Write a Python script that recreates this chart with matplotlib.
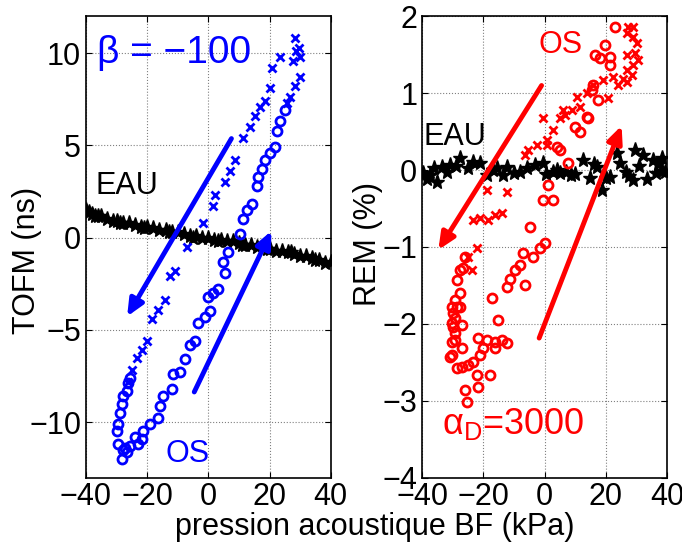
import matplotlib
matplotlib.use('Agg')
import matplotlib.pyplot as plt

plt.rcParams['font.family'] = ['Liberation Sans', 'DejaVu Sans']
plt.rcParams['mathtext.fontset'] = 'custom'
plt.rcParams['mathtext.rm'] = 'Liberation Sans'
plt.rcParams['mathtext.it'] = 'Liberation Sans'

# ---- left panel : TOFM ----
eau_l_x = [-40, -39, -38, -36, -35, -33, -31, -30, -28, -26, -24, -22, -20, -18, -16, -14,
           -12, -10, -8, -6, -4, -2, 0, 2, 4, 6, 8, 10, 12, 14, 16, 18, 20, 22, 24, 26,
           28, 30, 32, 34, 36, 38, 40, -37, -29, -21, -13, -5, 3, 11, 19, 27, 35]
eau_l_y = [1.5, 1.4, 1.3, 1.2, 1.2, 1.0, 0.9, 0.9, 0.8, 0.8, 0.7, 0.6, 0.6, 0.5, 0.4, 0.4,
           0.3, 0.3, 0.2, 0.1, 0.1, 0.0, 0.0, -0.1, -0.1, -0.2, -0.2, -0.3, -0.4, -0.4, -0.5,
           -0.5, -0.6, -0.7, -0.7, -0.8, -0.9, -1.0, -1.0, -1.1, -1.2, -1.4, -1.3,
           1.2, 0.8, 0.5, 0.3, 0.0, -0.2, -0.4, -0.6, -0.8, -1.2]

os_l_down_x = [28.2, 29.5, 30.0, 28.8, 27.5, 23.3, 20.7, 20.0, 18.4, 16.8, 15.2, 13.5, 11.3,
               8.7, 7.0, 5.4, 2.1, 1.5, -1.8, -7.1, -10.9, -12.6, -14.2, -16.5, -18.4,
               -20.1, -21.7, -23.4, -25.0, -26.3, 29.9, 28.2, 26.6, 25.6]
os_l_down_y = [10.8, 10.3, 9.8, 10.1, 9.6, 9.8, 9.2, 8.1, 7.4, 7.1, 6.6, 6.0, 5.4,
               4.2, 3.6, 3.0, 2.3, 1.7, 0.8, -0.5, -1.8, -2.1, -3.4, -3.9, -4.4,
               -5.6, -6.1, -6.5, -7.2, -7.8, 8.7, 8.2, 7.6, 7.3]

os_l_up_x = [25.0, 23.3, 22.4, 21.7, 20.0, 18.4, 17.5, 16.2, 15.8, 14.2, 12.6, 11.3, 10.3,
             6.4, 4.7, 5.4, 3.1, 1.6, -0.1, 0.5, -1.1, -3.4, -4.4, -6.0, -7.7, -9.3,
             -11.6, -11.9, -14.9, -15.8, -16.5, -19.1, -21.4, -21.7, -24.0, -25.6, -27.3,
             -29.6, -28.2, -29.9, -29.6, -28.9, -28.2, -27.9, -26.6, -26.3, -25.6, -28.0,
             -26.5, -23.0]
os_l_up_y = [6.9, 6.3, 5.8, 4.9, 4.6, 4.2, 3.7, 3.3, 2.8, 1.8, 1.5, 1.0, 0.2,
             -0.8, -1.3, -1.9, -2.8, -3.0, -3.2, -4.0, -4.3, -4.6, -5.6, -5.8, -6.6, -7.3,
             -7.4, -8.2, -8.6, -9.1, -9.8, -10.1, -10.5, -10.9, -10.8, -11.3, -11.4,
             -11.2, -12.0, -10.5, -10.1, -9.5, -9.0, -8.6, -8.3, -7.9, -7.6, -11.5,
             -11.6, -11.2]

# ---- right panel : REM ----
eau_r_x = [-39.7, -37.5, -35.1, -33.5, -30.9, -27.6, -25.0, -21.1, -18.8, -15.6, -12.2,
           -10.0, -5.7, -0.5, 2.8, 5.0, 7.1, 12.6, 14.9, 17.1, 18.8, 21.4, 23.7, 24.7,
           26.5, 28.9, 29.6, 32.2, 35.4, 36.5, 38.4, 38.4, -36.0, -29.0, -8.0, 10.0,
           -38.5, -32.0, -23.5, -17.0, -13.5, -3.0, 0.5, 4.0, 8.5, 16.0, 20.0, 27.5,
           31.0, 33.5, 37.0, 39.5]
eau_r_y = [-0.04, -0.06, -0.16, 0.04, 0.07, 0.16, 0.03, 0.09, -0.07, 0.03, 0.04,
           -0.04, 0.03, 0.09, -0.02, -0.04, -0.03, 0.13, -0.10, 0.04, -0.26, -0.09, 0.22,
           0.09, -0.03, -0.13, 0.26, 0.20, 0.13, -0.04, 0.16, -0.01, 0.02, 0.05, -0.03,
           -0.05, -0.12, -0.02, 0.10, 0.00, -0.06, 0.06, -0.05, 0.00, -0.06, 0.08, -0.10,
           -0.08, 0.05, -0.12, 0.08, -0.02]

os_r_down_x = [27.3, 28.9, 26.9, 28.9, 30.2, 29.6, 26.9, 30.5, 28.9, 26.9, 28.6, 25.6, 26.9,
               24.0, 22.4, 19.1, 20.7, 15.8, 13.9, 10.6, 11.6, 9.0, 6.0, 6.7, 5.1, -0.5,
               2.8, 0.8, -2.4, -5.4, -6.4, -12.2, -18.8, 0.8, -23.3, -21.1, -18.4, -16.2,
               -13.9, -22.0, -25.0, -23.7]
os_r_down_y = [1.86, 1.86, 1.78, 1.73, 1.65, 1.52, 1.50, 1.43, 1.37, 1.30, 1.24, 1.19, 1.15,
               1.11, 1.21, 1.17, 0.94, 1.11, 1.00, 0.95, 0.82, 0.78, 0.78, 0.72, 0.68, 0.68,
               0.52, 0.39, 0.33, 0.26, 0.20, -0.29, -0.26, 0.33, -0.65, -0.63, -0.65, -0.59,
               -0.56, -1.01, -1.13, -1.30]

os_r_up_x = [23.0, 19.8, 16.5, 18.1, 21.4, 21.4, 15.8, 15.5, 17.5, 13.9, 14.2, 10.0, 11.6,
             4.1, 5.1, 7.7, 1.1, -0.5, 2.8, -4.7, 0.2, -1.5, -3.8, -7.0, -8.0, -9.6, -11.3,
             -12.2, -6.4, -17.1, -15.2, -12.2, -13.9, -16.2, -16.2, -18.8, -21.7, -20.1,
             -21.1, -23.3, -25.0, -26.9, -28.6, -30.2, -30.8, -26.9, -29.2, -30.2, -29.2,
             -29.9, -26.9, -30.2, -29.2, -29.9, -30.2, -28.6, -27.6, -29.2, -27.6, -28.6,
             -27.6, -26.6, -26.0, -22.0, -17.8, -26.0, -21.7, -25.3]
os_r_up_y = [1.86, 1.63, 1.50, 1.46, 1.47, 1.37, 1.11, 1.04, 0.91, 0.69, 0.68, 0.56, 0.49,
             0.30, 0.26, 0.09, -0.20, -0.39, -0.39, -0.74, -0.95, -1.01, -1.13, -1.08, -1.24,
             -1.30, -1.42, -1.52, -1.50, -1.66, -1.95, -2.25, -2.21, -2.31, -2.24, -2.21,
             -2.19, -2.31, -2.41, -2.50, -2.54, -2.56, -2.57, -2.41, -2.43, -2.31, -2.21,
             -2.24, -2.12, -2.04, -2.02, -1.99, -1.93, -1.86, -1.78, -1.78, -1.78, -1.69,
             -1.60, -1.43, -1.30, -1.28, -1.13, -2.67, -2.67, -2.86, -2.82, -3.02]

xticks = [-40, -20, 0, 20, 40]

fig = plt.figure(figsize=(6.82, 5.42), dpi=100)
ax1 = fig.add_axes([0.126, 0.119, 0.359, 0.851])
ax2 = fig.add_axes([0.619, 0.119, 0.359, 0.851])

fs = 22
blue = '#0000ff'
red = '#ff0000'
arrow = '-|>,head_length=1.0,head_width=0.45'

# left
ax1.plot(eau_l_x, eau_l_y, '*', color='k', markersize=11, linestyle='none')
ax1.plot(os_l_down_x, os_l_down_y, 'x', color=blue, markersize=6, mew=2, linestyle='none')
ax1.plot(os_l_up_x, os_l_up_y, 'o', color=blue, mfc='none', markersize=6.5, mew=2, linestyle='none')
ax1.annotate('', xy=(-27, -4.4), xytext=(8, 5.5),
             arrowprops=dict(arrowstyle=arrow, color=blue, lw=3.5))
ax1.annotate('', xy=(21, 0.5), xytext=(-5, -8.5),
             arrowprops=dict(arrowstyle=arrow, color=blue, lw=3.5))
ax1.text(-36.5, 10, '\u03b2 = \u2212100', color=blue, fontsize=28, va='center')
ax1.text(-37, 2.8, 'EAU', color='k', fontsize=fs, va='center')
ax1.text(-14, -11.7, 'OS', color=blue, fontsize=fs, va='center')
ax1.set_xlim(-40, 40)
ax1.set_ylim(-13, 12)
ax1.set_yticks([-10, -5, 0, 5, 10])
ax1.set_ylabel('TOFM (ns)', fontsize=fs)
ax1.yaxis.set_label_coords(-0.178, 0.471)

# right
ax2.plot(eau_r_x, eau_r_y, '*', color='k', markersize=11, linestyle='none')
ax2.plot(os_r_down_x, os_r_down_y, 'x', color=red, markersize=6, mew=2, linestyle='none')
ax2.plot(os_r_up_x, os_r_up_y, 'o', color=red, mfc='none', markersize=6.5, mew=2, linestyle='none')
ax2.annotate('', xy=(-35.2, -1.07), xytext=(-0.5, 1.13),
             arrowprops=dict(arrowstyle=arrow, color=red, lw=3.5))
ax2.annotate('', xy=(25.5, 0.61), xytext=(-2.1, -2.22),
             arrowprops=dict(arrowstyle=arrow, color=red, lw=3.5))
ax2.text(-2.1, 1.62, 'OS', color=red, fontsize=fs, va='center')
ax2.text(-39.5, 0.43, 'EAU', color='k', fontsize=fs, va='center')
ax2.text(-33.5, -3.3, r'$\mathrm{\alpha_D}$=3000', color=red, fontsize=26, va='center')
ax2.set_xlim(-40, 40)
ax2.set_ylim(-4, 2)
ax2.set_yticks([-4, -3, -2, -1, 0, 1, 2])
ax2.set_ylabel('REM (%)', fontsize=fs)
ax2.yaxis.set_label_coords(-0.16, 0.506)

for ax in (ax1, ax2):
    ax.set_xticks(xticks)
    ax.grid(True, linestyle=':', color='#808080', linewidth=0.8)
    ax.tick_params(direction='in', labelsize=fs, length=4, top=True, right=True)
    for s in ax.spines.values():
        s.set_linewidth(1.2)

fig.text(0.55, 0.013, 'pression acoustique BF (kPa)', fontsize=fs, ha='center', va='baseline')

fig.savefig('out.png', dpi=100)
